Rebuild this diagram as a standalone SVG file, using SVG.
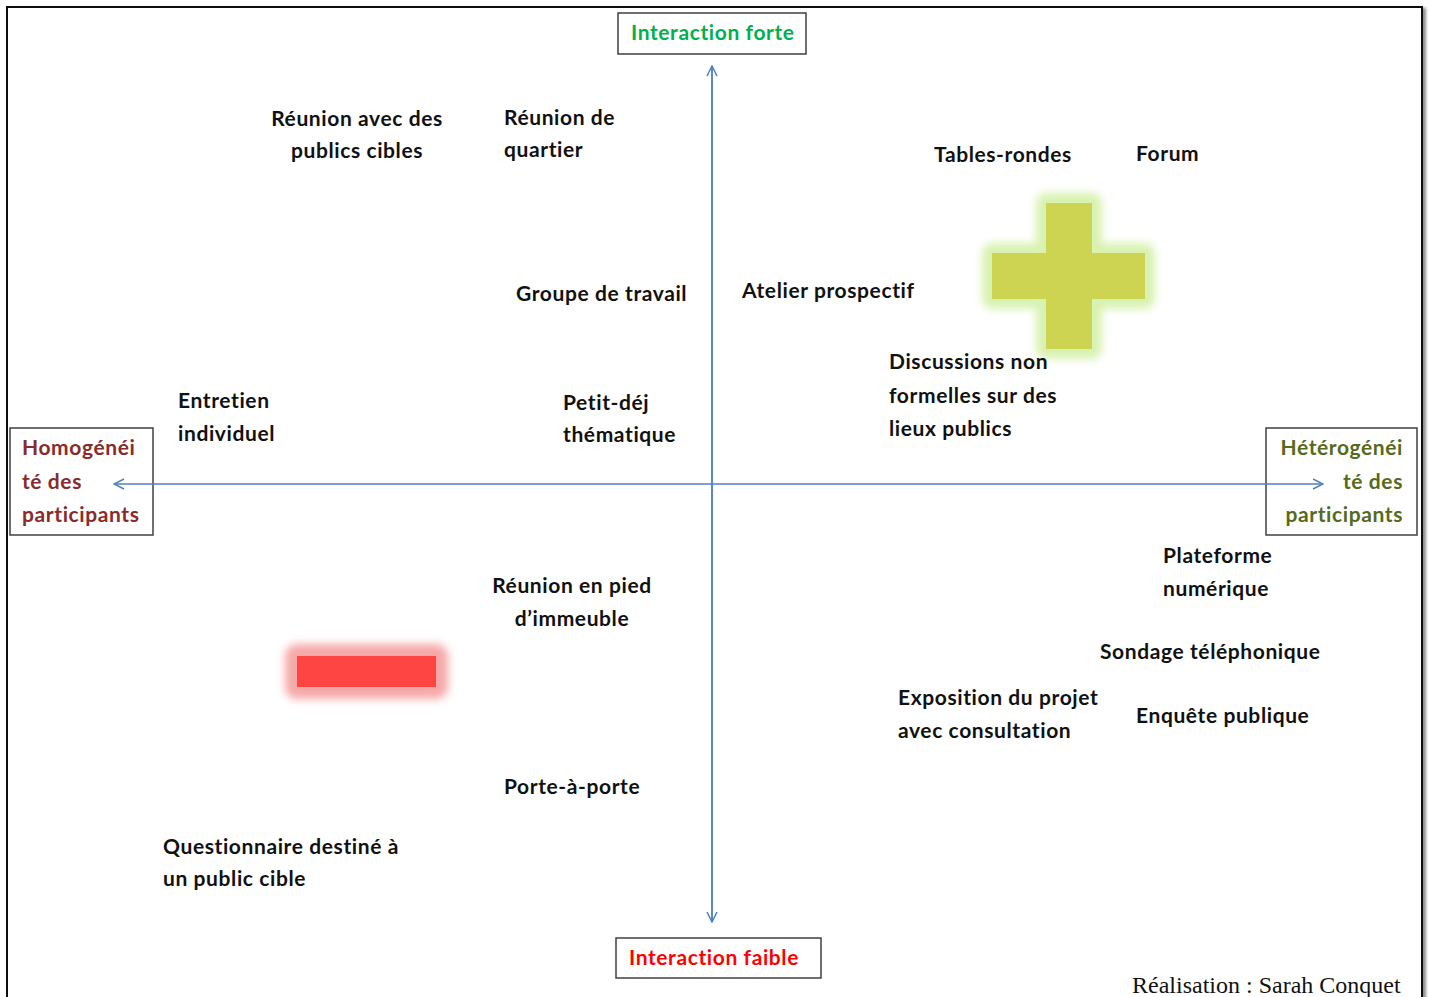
<svg xmlns="http://www.w3.org/2000/svg" width="1431" height="997" viewBox="0 0 1431 997">
<style>
.t{font-family:Lato,"Open Sans","Liberation Sans",sans-serif;font-weight:bold;font-size:21px;letter-spacing:0.6px;fill:#111}
.box{fill:#fff;stroke:#404040;stroke-width:1.5}
.ax{stroke:#4F81BD;stroke-width:1.5;fill:none}
.hom{fill:#8A2B2B}
.het{fill:#566A1E}
</style>
<defs>
<marker id="ah" viewBox="0 0 12 12" refX="11" refY="6" markerWidth="12" markerHeight="12" markerUnits="userSpaceOnUse" orient="auto">
<path d="M1,1 L11,6 L1,11" fill="none" stroke="#4F81BD" stroke-width="1.5"/>
</marker>
<filter id="blur" x="-50%" y="-50%" width="200%" height="200%">
<feGaussianBlur stdDeviation="4"/>
</filter>
<filter id="sh" x="-5%" y="-5%" width="110%" height="110%">
<feDropShadow dx="3" dy="2" stdDeviation="1.5" flood-color="#000" flood-opacity="0.45"/>
</filter>
</defs>
<rect width="1431" height="997" fill="#fff"/>
<rect x="7" y="7" width="1415" height="1010" fill="#fff" stroke="#111" stroke-width="2" filter="url(#sh)"/>

<g id="n-forte">
<rect class="box" x="618" y="13" width="188" height="41"/>
<text class="t" x="631" y="40" style="fill:#00B050">Interaction forte</text>
</g>
<g id="n-faible">
<rect class="box" x="616" y="938" width="205" height="40"/>
<text class="t" x="629" y="965" style="fill:#FF0000">Interaction faible</text>
</g>
<g id="n-homo">
<rect class="box" x="10" y="428" width="143" height="107"/>
<text class="t hom" x="22" y="455">Homogénéi</text>
<text class="t hom" x="22" y="489">té des</text>
<text class="t hom" x="22" y="522">participants</text>
</g>
<g id="n-hetero">
<rect class="box" x="1266" y="428" width="151" height="107"/>
<text class="t het" x="1403" y="455" text-anchor="end">Hétérogénéi</text>
<text class="t het" x="1403" y="489" text-anchor="end">té des</text>
<text class="t het" x="1403" y="522" text-anchor="end">participants</text>
</g>

<g id="connectors">
<line class="ax" x1="712" y1="922" x2="712" y2="66" marker-end="url(#ah)"/>
<line class="ax" x1="712" y1="66" x2="712" y2="922" marker-end="url(#ah)"/>
<line class="ax" x1="712" y1="484" x2="114" y2="484" marker-end="url(#ah)"/>
<line class="ax" x1="712" y1="484" x2="1323" y2="484" marker-end="url(#ah)"/>
</g>

<g id="plus">
<g filter="url(#blur)" fill="#D8F2B0">
<rect x="1036" y="193" width="66" height="166" rx="10"/>
<rect x="982" y="243" width="173" height="66" rx="10"/>
</g>
<rect x="1046" y="203" width="46" height="146" fill="#CDD452"/>
<rect x="992" y="253" width="153" height="46" fill="#CDD452"/>
</g>
<g id="minus">
<rect x="285" y="644" width="163" height="55" rx="12" fill="#F6A8A8" filter="url(#blur)"/>
<rect x="297" y="656" width="139" height="31" fill="#FF4444"/>
</g>

<g id="n-reunion-publics">
<text class="t" x="357" y="126" text-anchor="middle">Réunion avec des</text>
<text class="t" x="357" y="158" text-anchor="middle">publics cibles</text>
</g>
<g id="n-reunion-quartier">
<text class="t" x="504" y="125">Réunion de</text>
<text class="t" x="504" y="157">quartier</text>
</g>
<g id="n-tables"><text class="t" x="934" y="162">Tables-rondes</text></g>
<g id="n-forum"><text class="t" x="1136" y="161">Forum</text></g>
<g id="n-groupe"><text class="t" x="516" y="301">Groupe de travail</text></g>
<g id="n-atelier"><text class="t" x="742" y="298">Atelier prospectif</text></g>
<g id="n-discussions">
<text class="t" x="889" y="369">Discussions non</text>
<text class="t" x="889" y="403">formelles sur des</text>
<text class="t" x="889" y="436">lieux publics</text>
</g>
<g id="n-entretien">
<text class="t" x="178" y="408">Entretien</text>
<text class="t" x="178" y="441">individuel</text>
</g>
<g id="n-petitdej">
<text class="t" x="563" y="410">Petit-déj</text>
<text class="t" x="563" y="442">thématique</text>
</g>
<g id="n-plateforme">
<text class="t" x="1163" y="563">Plateforme</text>
<text class="t" x="1163" y="596">numérique</text>
</g>
<g id="n-pied">
<text class="t" x="572" y="593" text-anchor="middle">Réunion en pied</text>
<text class="t" x="572" y="626" text-anchor="middle">d’immeuble</text>
</g>
<g id="n-sondage"><text class="t" x="1100" y="659">Sondage téléphonique</text></g>
<g id="n-exposition">
<text class="t" x="898" y="705">Exposition du projet</text>
<text class="t" x="898" y="738">avec consultation</text>
</g>
<g id="n-enquete"><text class="t" x="1136" y="723">Enquête publique</text></g>
<g id="n-porte"><text class="t" x="504" y="794">Porte-à-porte</text></g>
<g id="n-questionnaire">
<text class="t" x="163" y="854">Questionnaire destiné à</text>
<text class="t" x="163" y="886">un public cible</text>
</g>
<text x="1132" y="993" font-family="'Liberation Serif',serif" font-size="24" fill="#111">Réalisation : Sarah Conquet</text>
</svg>
